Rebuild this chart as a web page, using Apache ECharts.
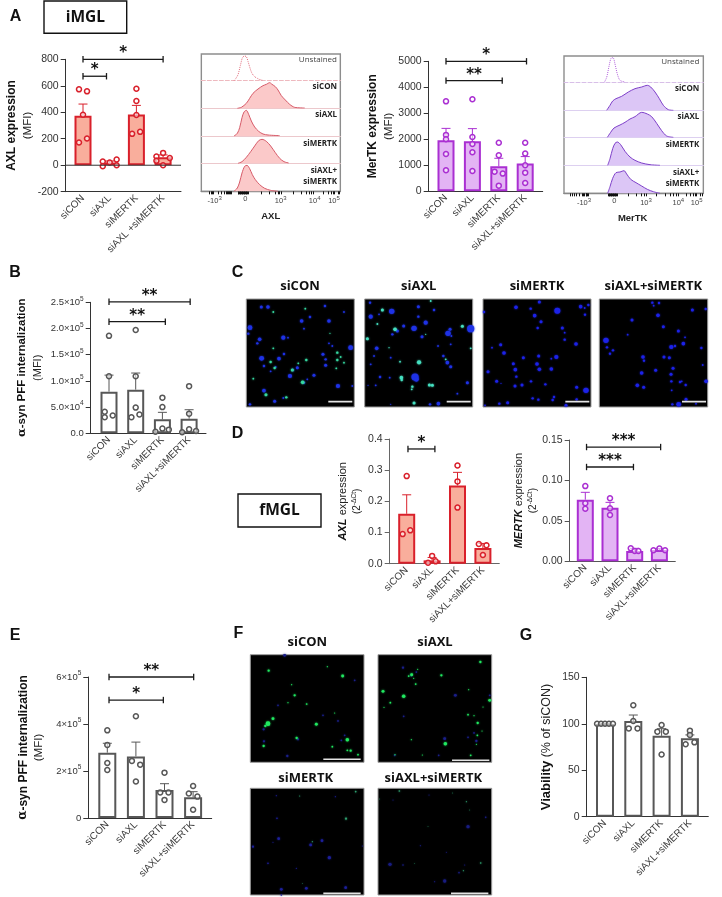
<!DOCTYPE html>
<html><head><meta charset="utf-8">
<script src="https://cdn.jsdelivr.net/npm/echarts@6/dist/echarts.min.js"></script>
<style>html,body{margin:0;padding:0;background:#fff}#c{width:722px;height:897px}</style>
</head><body><div id="c"></div>
<script>
const categories=['siCON','siAXL','siMERTK','siAXL+siMERTK'];
const categoriesSpaced=['siCON','siAXL','siMERTK','siAXL +siMERTK'];

// A – AXL
const axlMeans=[374,20,384,60];
const axlErrTop=[462,32,452,78];
const axlDots=[[573,558,381,202,172],[28,20,43,-8,0],[578,485,379,237,252],[66,93,55,33,0]];
const axlJitter=[[-.15,.15,0,.15,-.15],[-.26,0,.26,-.26,.26],[0,0,0,-.16,.14],[-.25,0,.25,-.25,0]];
const axlSig=[[0,3,800,'*'],[0,.88,672,'*']];
// A – MerTK
const mertkMeans=[1960,1925,960,1065];
const mertkErrTop=[2420,2410,1270,1335];
const mertkDots=[[3460,2170,2000,1436,808],[3540,2090,1820,1500,782],[1870,1385,756,680,218],[1870,1450,1000,718,320]];
const mertkJitter=[[0,0,0,0,0],[0,0,0,0,0],[0,0,-.16,.15,0],[0,0,0,0,0]];
const mertkSig=[[0,3.05,5000,'*'],[0,2.13,4256,'**']];
// B – iMGL internalization
const pffIMeans=[79500,83300,26700,28000];
const pffIErrTop=[111000,115000,40000,45000];
const pffIDots=[[186000,109000,41000,30500,34000],[197000,109000,49000,30500,36000],[68000,50000,3000,9000,7000],[90000,37500,2000,7500,4500]];
const pffIJitter=[[0,0,-.16,-.16,.14],[0,0,0,-.16,.14],[0,0,-.26,0,.24],[0,0,-.26,0,.26]];
const pffISig=[[0,3.04,251000,'**'],[0,2.11,213000,'**']];
// D – qPCR
const axlQMeans=[.16,.0107,.251,.05];
const axlQErrTop=[.221,.02,.293,.065];
const axlQDots=[[.281,.095,.107],[.025,.003,.0075],[.315,.264,.18],[.063,.059,.028]];
const axlQJitter=[[0,-.16,.14],[0,-.16,.14],[0,0,0],[-.16,.14,0]];
const axlQSig=[[.05,1.11,.368,'*']];
const mertkQMeans=[.0762,.0663,.0128,.014];
const mertkQErrTop=[.0853,.0729,.016,.0157];
const mertkQDots=[[.093,.0717,.065],[.078,.0655,.0573],[.016,.0128,.0128],[.0136,.0157,.0136]];
const mertkQJitter=[[0,0,0],[0,0,0],[-.16,0,.15],[-.24,0,.23]];
const mertkQSig=[[.05,3.05,.1413,'***'],[.05,1.95,.1166,'***']];
// E – fMGL internalization
const pffFMeans=[278000,262000,119000,88000];
const pffFErrTop=[318000,323000,146000,112000];
const pffFDots=[[373000,311000,234000,204000],[433000,243000,227000,155000],[193000,109000,109000,77000],[136000,104000,91000,35000]];
const pffFJitter=[[0,0,0,0],[0,-.14,.15,0],[0,-.15,.14,0],[0,-.15,.15,0]];
const pffFSig=[[.06,3.02,600000,'**'],[.06,1.96,502000,'*']];
// G – viability
const viaMeans=[99.7,103,87,84.3];
const viaErrTop=[100,109.4,94.7,88];
const viaDots=[[100,100,100,100,100],[120,103,95,95],[98.7,91.5,91.5,67],[92.6,88,78,80]];
const viaJitter=[[-.28,-.14,0,.14,.28],[0,0,-.16,.15],[0,-.15,.15,0],[0,0,-.15,.16]];

// flow histograms: [channel position, event height]
const axlUnst=[[108,0],[113,6],[120,18],[127,45],[133,68],[139,74],[145,72],[150,58],[156,38],[162,22],[170,12],[178,7],[186,3],[195,1]];
const axlCon=[[118,0],[130,3],[145,15],[155,30],[165,45],[180,58],[195,68],[205,72],[215,77],[222,72],[232,65],[240,55],[250,38],[262,25],[275,12],[290,3],[320,1]];
const axlAxl=[[108,0],[118,8],[125,25],[132,55],[138,72],[145,77],[152,65],[160,45],[170,27],[182,14],[195,6],[210,3],[245,1]];
const axlMer=[[120,0],[132,5],[145,18],[158,35],[170,52],[182,68],[192,72],[205,66],[218,52],[232,32],[245,15],[258,5],[272,1]];
const axlBoth=[[108,0],[118,10],[125,28],[132,55],[140,75],[147,78],[155,68],[163,50],[172,35],[185,20],[200,9],[218,3],[240,0]];
const merUnst=[[133,0],[140,15],[147,48],[153,72],[159,74],[165,55],[172,25],[180,6],[195,1]];
const merCon=[[140,0],[150,15],[158,28],[168,35],[185,42],[205,55],[225,65],[245,70],[262,75],[272,70],[285,55],[298,35],[310,15],[325,2],[340,0]];
const merAxl=[[142,0],[152,15],[162,28],[180,37],[195,45],[210,55],[225,62],[245,75],[262,70],[275,62],[290,42],[305,20],[320,4],[340,0]];
const merMer=[[143,0],[150,20],[158,50],[165,66],[172,70],[182,62],[195,42],[210,25],[225,15],[245,7],[270,2],[300,0]];
const merBoth=[[143,0],[150,20],[158,45],[168,62],[180,64],[192,68],[200,58],[212,42],[228,32],[245,22],[262,12],[280,5],[300,0]];
const axlFlowTicks=[35,40,44,47,60,70,78,84,88,92,95,98,100,120,122,124,126,128,130,132,134,136,138,140,142,144,146,148,150,190,215,232,240,245,250,285,310,325,335,340,345,375,390,400,405,410,420,425];
const merFlowTicks=[32,38,44,50,58,66,70,74,78,80,82,85,145,147,149,151,153,155,157,159,161,163,165,167,169,171,205,230,245,252,258,290,315,330,340,350,355,378,392,400,406,410,422,428];
const flowLabels=['-10{s|3}','0','10{s|3}','10{s|4}','10{s|5}'];

// micrographs: [x, y, spot size]
const c1Blue=[[52,33,5],[72,33,6],[18,95,8],[13,113,4],[173,75,6],[198,63,4],[255,75,6],[243,30,4],[300,48,3],[180,98,3],[47,130,6],[40,142,4],[118,125,7],[132,125,3],[320,155,8],[255,142,3],[265,150,3],[53,187,8],[105,188,6],[120,174,4],[237,175,5],[245,190,4],[245,208,5],[160,215,5],[147,222,4],[138,240,7],[210,238,5],[95,213,3],[60,210,4],[190,250,3],[80,226,3],[282,270,7],[325,270,3],[60,284,6],[6,300,6],[92,316,5],[118,306,3],[180,260,4],[18,325,4]];
const c1Green=[[88,48,3],[184,38,3],[80,198,4],[92,216,4],[145,222,5],[187,192,4],[163,202,3],[280,170,4],[280,192,4],[290,183,3],[277,217,3],[300,200,3],[176,259,6],[66,296,5],[127,304,4],[88,157,3],[258,112,2],[28,248,3]];
const c2Blue=[[443,46,9],[380,62,7],[378,20,4],[405,55,3],[523,32,5],[570,42,4],[523,62,4],[545,80,7],[510,97,9],[479,90,5],[460,105,5],[612,112,9],[618,100,5],[680,98,12],[445,115,4],[534,122,5],[398,157,6],[390,180,3],[622,120,3],[620,145,3],[598,180,4],[610,200,6],[620,212,5],[440,185,3],[380,205,3],[408,243,4],[437,245,3],[513,243,12],[517,250,8],[582,150,3],[670,260,5],[583,323,6],[640,293,3],[395,268,3],[372,268,2],[558,325,4],[440,325,2]];
const c2Green=[[415,42,5],[453,100,6],[370,128,5],[655,91,5],[525,199,7],[472,245,6],[473,252,4],[505,272,4],[503,280,3],[556,267,5],[565,268,5],[510,321,5],[680,157,3],[468,197,3],[400,84,3],[560,15,3],[545,115,2],[605,190,3],[435,155,2]];
const c3Blue=[[232,44,10],[178,18,5],[108,34,6],[152,38,4],[12,48,4],[302,32,6],[325,27,4],[315,56,4],[314,36,3],[164,59,6],[183,77,5],[173,96,4],[247,96,5],[254,110,3],[254,131,4],[288,144,6],[62,146,5],[72,171,6],[36,155,3],[176,180,5],[130,185,5],[229,183,7],[214,188,3],[100,203,5],[171,204,6],[106,221,6],[178,220,6],[214,219,6],[24,227,5],[109,242,4],[50,256,5],[153,256,4],[126,267,5],[105,270,5],[196,265,4],[63,262,2],[290,274,5],[318,283,9],[158,307,4],[175,311,4],[222,303,4],[218,312,4],[290,310,4],[83,320,5],[58,323,4],[15,328,3],[258,328,5]];
const c4Blue=[[517,20,4],[537,21,4],[521,29,3],[534,58,6],[637,42,5],[677,39,4],[456,72,5],[550,92,5],[595,105,5],[443,116,3],[378,133,9],[615,124,3],[381,154,4],[399,163,4],[390,173,4],[610,143,6],[574,153,7],[585,150,4],[664,156,4],[489,183,6],[552,183,5],[568,185,5],[492,194,4],[668,207,3],[485,231,6],[527,223,5],[579,217,5],[573,235,5],[678,256,6],[600,258,4],[605,256,3],[574,256,4],[617,267,4],[472,268,6],[491,274,5],[575,283,3],[618,310,5],[577,325,4],[596,325,8],[648,323,3]];
const f1Blue=[[110,10,5],[47,232,4],[48,268,4],[150,262,4],[90,160,3],[320,85,3],[270,207,3],[225,190,3],[118,312,4],[280,265,3],[290,250,3]];
const f1Green=[[62,56,4],[284,72,5],[140,130,4],[60,215,8],[75,200,5],[205,217,5],[298,263,6],[146,258,4],[47,282,4],[52,222,4],[176,156,3],[131,98,2],[238,44,2],[120,152,2],[308,296,4],[298,295,3],[253,284,3],[330,308,3],[260,183,2]];
const f2Blue=[[465,47,4],[622,130,5],[490,70,4],[467,193,3],[590,260,5],[678,243,3],[685,267,4],[572,310,3],[440,310,3],[725,130,3],[505,60,3],[660,256,3]];
const f2Green=[[491,68,5],[580,70,4],[503,96,3],[405,118,5],[467,133,6],[725,145,5],[427,152,3],[697,30,4],[509,52,2],[482,72,3],[497,79,2],[408,166,2],[660,188,3],[678,191,2],[689,213,4],[702,237,2],[688,250,3],[592,275,6],[441,308,2],[523,309,2],[668,310,3],[685,277,2],[490,263,2],[662,113,2],[705,165,2]];
const f3Blue=[[92,161,5],[15,185,4],[188,180,5],[222,167,5],[244,218,6],[87,100,3],[175,310,5],[100,313,5],[100,330,3],[293,308,5],[75,172,2],[60,235,3],[145,250,2],[85,32,2],[262,35,2],[343,183,2]];
const f3Green=[[294,101,4],[155,33,2],[323,20,3],[193,170,2],[163,296,1.5]];
const f4Blue=[[426,238,6],[465,240,3],[660,125,6],[590,288,6],[517,182,2],[595,202,2],[633,263,3],[560,290,2],[713,97,3],[435,45,2],[543,30,2],[650,240,2]];
const f4Green=[[454,18,3],[698,234,3],[646,257,2],[655,50,2],[540,125,1.5],[499,235,1.5],[665,75,1.5],[395,42,1.5],[614,24,1.5]];

const SANS='"Liberation Sans",Arial,sans-serif', HUM='"Open Sans","Noto Sans",sans-serif';
const RED={stroke:'#d9202b',fill:'#f9ae9c'}, PUR={stroke:'#aa2fd2',fill:'#e3b4f4'}, GRY={stroke:'#575757',fill:'#ffffff'};
const grid=[],xAxis=[],yAxis=[],series=[],graphic=[];
const supRich={s:{fontSize:6.5,verticalAlign:'top',lineHeight:14,fontFamily:SANS,color:'#333'},n:{fontSize:9.5,lineHeight:14,fontFamily:SANS,color:'#333'}};

function addPanel(p){
  const i=grid.length, left=p.left,right=p.right;
  grid.push({left,top:p.top,width:right-left,height:p.bottom-p.top,containLabel:false});
  xAxis.push({gridIndex:i,type:'value',min:-(p.c0-left)/p.sp,max:(right-p.c0)/p.sp,
    splitLine:{show:false},axisTick:{show:false},
    axisLine:{onZero:false,lineStyle:{color:p.axis||'#333',width:1}},
    axisLabel:{customValues:[0,1,2,3],rotate:45,fontSize:10,fontFamily:SANS,color:'#3a3a3a',margin:5,
      formatter:v=>(p.cats||categories)[Math.round(v)]}});
  yAxis.push({gridIndex:i,type:'value',min:p.min,max:p.max,interval:p.interval,splitLine:{show:false},
    name:p.name,nameLocation:'middle',nameGap:p.gap,nameRotate:90,
    nameTextStyle:{rich:p.nameRich},
    axisLine:{show:true,onZero:false,lineStyle:{color:p.axis||'#333',width:1}},
    axisTick:{show:true,length:5,lineStyle:{color:p.axis||'#333'}},
    axisLabel:{fontSize:10.5,fontFamily:SANS,color:'#333',margin:7,formatter:p.fmt||(v=>String(v)),rich:supRich}});
  const ax={xAxisIndex:i,yAxisIndex:i,silent:true};
  if(p.min<0) series.push({...ax,type:'line',symbol:'none',data:[[-(p.c0-left)/p.sp,0],[(right-p.c0)/p.sp,0]],lineStyle:{color:p.axis||'#333',width:1}});
  series.push({...ax,type:'bar',barWidth:p.barW||17,data:p.means.map((v,k)=>[k,v]),
    itemStyle:{color:p.col.fill,borderColor:p.col.stroke,borderWidth:2}});
  series.push({...ax,type:'custom',data:p.errTop.map((v,k)=>[k,v,p.means[k]]),
    renderItem:(ps,api)=>{const a=api.coord([api.value(0),api.value(2)]),b=api.coord([api.value(0),api.value(1)]);
      const st={stroke:p.col.stroke,lineWidth:1,fill:null};
      return {type:'group',children:[
        {type:'line',shape:{x1:a[0],y1:a[1],x2:b[0],y2:b[1]},style:st},
        {type:'line',shape:{x1:b[0]-4.5,y1:b[1],x2:b[0]+4.5,y2:b[1]},style:st}]};}});
  const pts=[];p.dots.forEach((arr,k)=>arr.forEach((v,j)=>pts.push([k+p.jit[k][j],v])));
  series.push({...ax,type:'scatter',symbol:'circle',symbolSize:p.dotSize||5,data:pts,
    itemStyle:{color:'rgba(255,255,255,0.55)',borderColor:p.col.stroke,borderWidth:1.5,opacity:1}});
  if(p.sig) series.push({...ax,type:'custom',data:p.sig.map(s=>[s[0],s[1],s[2]]),
    renderItem:(ps,api)=>{
      const a=api.coord([api.value(0),api.value(2)]),b=api.coord([api.value(1),api.value(2)]);
      const st={stroke:'#1a1a1a',lineWidth:1.3,fill:null};
      return {type:'group',children:[
        {type:'line',shape:{x1:a[0],y1:a[1],x2:b[0],y2:b[1]},style:st},
        {type:'line',shape:{x1:a[0],y1:a[1]-3.2,x2:a[0],y2:a[1]+3.2},style:st},
        {type:'line',shape:{x1:b[0],y1:b[1]-3.2,x2:b[0],y2:b[1]+3.2},style:st},
        {type:'text',style:{text:p.sig[ps.dataIndex][3],x:(a[0]+b[0])/2,y:a[1]-6,align:'center',verticalAlign:'middle',
          fontFamily:'"DejaVu Sans"',fontWeight:'bold',fontSize:15,fill:'#111'}}]};}});
}

function nameRich(sz){sz=sz||12;return {b:{fontSize:sz,fontWeight:'bold',fontFamily:SANS,color:'#111',lineHeight:16},
  a:{fontSize:sz,fontWeight:'bold',fontFamily:'"DejaVu Serif","Liberation Serif",serif',color:'#111',lineHeight:16},
  r:{fontSize:sz-.5,fontFamily:SANS,color:'#222',lineHeight:16},
  i:{fontSize:11,fontWeight:'bold',fontStyle:'italic',fontFamily:SANS,color:'#111',lineHeight:15},
  t:{fontSize:11,fontFamily:SANS,color:'#222',lineHeight:15},
  s:{fontSize:6.5,fontFamily:SANS,color:'#222',verticalAlign:'top',lineHeight:13},
  v:{fontSize:10,fontFamily:SANS,color:'#222',lineHeight:13}};}
const sup=(v,e)=>`{n|${v}×10}{s|${e}}`;
const fmtPffI=v=>v===0?'{n|0.0}':sup((v/10**Math.floor(Math.log10(v))).toFixed(1),Math.floor(Math.log10(v)));
const fmtPffF=v=>v===0?'{n|0}':`{n|${v/1e5}×10}{s|5}`;

addPanel({left:65.7,right:181,top:59.3,bottom:191.7,c0:83,sp:26.7,min:-200,max:800,interval:200,means:axlMeans,errTop:axlErrTop,dots:axlDots,jit:axlJitter,sig:axlSig,col:RED,cats:categoriesSpaced,
  name:'{b|AXL expression}\n{r|(MFI)}',nameRich:nameRich(),gap:30});
addPanel({left:428.7,right:542.7,top:61.3,bottom:191.3,c0:446,sp:26.4,min:0,max:5000,interval:1000,means:mertkMeans,errTop:mertkErrTop,dots:mertkDots,jit:mertkJitter,sig:mertkSig,col:PUR,
  name:'{b|MerTK expression}\n{r|(MFI)}',nameRich:nameRich(),gap:30});
addPanel({left:90.7,right:206,top:302.3,bottom:433.3,c0:109,sp:26.7,min:0,max:250000,interval:50000,means:pffIMeans,errTop:pffIErrTop,dots:pffIDots,jit:pffIJitter,sig:pffISig,col:GRY,fmt:fmtPffI,
  name:'{a|α}{b|-syn PFF internalization}\n{r|(MFI)}',nameRich:nameRich(11.5),gap:45});
addPanel({left:389.7,right:499.3,top:439,bottom:563.7,c0:406.7,sp:25.4,min:0,max:.4,interval:.1,means:axlQMeans,errTop:axlQErrTop,dots:axlQDots,jit:axlQJitter,sig:axlQSig,col:RED,axis:'#666',fmt:v=>v.toFixed(1),
  name:'{i|AXL} {t|expression}\n{v|(2}{s|-ΔCt}{v|)}',nameRich:nameRich(),gap:26});
addPanel({left:569.7,right:675.3,top:440,bottom:561.3,c0:585.3,sp:24.7,min:0,max:.15,interval:.05,means:mertkQMeans,errTop:mertkQErrTop,dots:mertkQDots,jit:mertkQJitter,sig:mertkQSig,col:PUR,axis:'#555',fmt:v=>v.toFixed(2),
  name:'{i|MERTK} {t|expression}\n{v|(2}{s|-ΔCt}{v|)}',nameRich:nameRich(),gap:28});
addPanel({left:88.3,right:211.7,top:677,bottom:818,c0:107.3,sp:28.6,barW:18,min:0,max:600000,interval:200000,means:pffFMeans,errTop:pffFErrTop,dots:pffFDots,jit:pffFJitter,sig:pffFSig,col:GRY,fmt:fmtPffF,
  name:'{a|α}{b|-syn PFF internalization}\n{r|(MFI)}',nameRich:nameRich(12),gap:41});
addPanel({left:586.7,right:708.3,top:677.3,bottom:816.7,c0:605,sp:28.3,barW:18,min:0,max:150,interval:50,means:viaMeans,errTop:viaErrTop,dots:viaDots,jit:viaJitter,col:GRY,
  name:'{b|Viability} {r|(% of siCON)}',nameRich:nameRich(13),gap:32});

function addHist(h){
  const rows=[h.unst,h.con,h.axl,h.mer,h.both];
  rows.forEach((d,r)=>{
    const i=grid.length, base=h.oy+h.bases[r]/3, last=r===4;
    grid.push({left:h.ox+h.xMin/3,width:(h.xMax-h.xMin)/3,top:base-83/3,height:83/3,containLabel:false});
    xAxis.push({gridIndex:i,type:'value',min:h.xMin,max:h.xMax,splitLine:{show:false},
      axisLine:{show:true,onZero:false,lineStyle:last?{color:'#888',width:1.4}:{color:r===0?h.base0:h.baseC,width:1,type:r===0?'dashed':'solid'}},
      axisTick:last?{show:true,customValues:h.ticks,length:3,lineStyle:{color:'#111',width:1}}:{show:false},
      axisLabel:last?{show:true,customValues:h.labelAt,fontSize:7.5,fontFamily:SANS,color:'#444',margin:4,
        formatter:v=>flowLabels[h.labelAt.indexOf(v)],
        rich:{s:{fontSize:6,verticalAlign:'top',lineHeight:11,fontFamily:SANS,color:'#444'}}}:{show:false}});
    yAxis.push({gridIndex:i,type:'value',min:0,max:83,show:false,splitLine:{show:false}});
    series.push({xAxisIndex:i,yAxisIndex:i,type:'line',symbol:'none',smooth:.3,data:d,silent:true,
      lineStyle:{color:r===0?h.dotted:h.line,width:1,type:r===0?'dotted':'solid'},
      areaStyle:r===0?undefined:{color:h.fill,opacity:1}});
  });
  graphic.push({type:'rect',silent:true,shape:{x:h.ox+h.xMin/3,y:h.oy+h.bases[4]/3-83*5/3+1,width:(h.xMax-h.xMin)/3,height:83*5/3-1},
    style:{fill:'none',stroke:'#8d8d8d',lineWidth:1.4}});
  h.labels.forEach((l,k)=>graphic.push({type:'text',silent:true,style:{text:l[0],x:h.labelX,y:l[1],align:'right',verticalAlign:'middle',
    fontFamily:HUM,fontSize:8,fontWeight:k?'bold':'normal',fill:k?'#222':'#444'}}));
  graphic.push({type:'text',silent:true,style:{text:h.title,x:h.titleX,y:h.titleY,align:'center',verticalAlign:'middle',fontFamily:SANS,fontSize:9.5,fontWeight:'bold',fill:'#222'}});
}
addHist({ox:198,oy:48,xMin:10,xMax:427,bases:[98,181,264,346,430],unst:axlUnst,con:axlCon,axl:axlAxl,mer:axlMer,both:axlBoth,
  ticks:axlFlowTicks,labelAt:[50,142,248,350,408],line:'#d65a68',dotted:'#e2707f',fill:'#fbc9c9',base0:'#eeb9bf',baseC:'#ecc8cc',
  labels:[['Unstained',60],['siCON',87],['siAXL',115],['siMERTK',143.3],['siAXL+',171],['siMERTK',182]],labelX:337,title:'AXL',titleX:270.7,titleY:216});
addHist({ox:560,oy:48,xMin:12,xMax:430,bases:[103,187,268,352,436],unst:merUnst,con:merCon,axl:merAxl,mer:merMer,both:merBoth,
  ticks:merFlowTicks,labelAt:[72,163,258,355,410],line:'#7d3fc8',dotted:'#b263dc',fill:'#dcc6f6',base0:'#d8bfe8',baseC:'#ddd0f0',
  labels:[['Unstained',61.7],['siCON',89],['siAXL',116.7],['siMERTK',145],['siAXL+',172.7],['siMERTK',183.7]],labelX:699.3,title:'MerTK',titleX:632.7,titleY:218});

function addImage(m){
  const i=grid.length;
  grid.push({left:m.l,top:m.t,width:m.r-m.l,height:m.b-m.t,show:true,backgroundColor:'#000',borderColor:'#9a9a9a',borderWidth:1,containLabel:false});
  xAxis.push({gridIndex:i,type:'value',min:m.x0,max:m.x1,show:false,splitLine:{show:false}});
  yAxis.push({gridIndex:i,type:'value',min:m.y0,max:m.y1,inverse:true,show:false,splitLine:{show:false}});
  const ax={xAxisIndex:i,yAxisIndex:i,silent:true,type:'scatter',symbol:'circle',symbolSize:d=>d[2]*m.k};
  series.push({...ax,data:m.blue,itemStyle:{color:m.bc,opacity:1,shadowBlur:m.sb,shadowColor:m.bc}});
  if(m.green) series.push({...ax,data:m.green,itemStyle:{color:m.gc,opacity:1,shadowBlur:m.sb,shadowColor:m.gs||m.gc}});
  series.push({xAxisIndex:i,yAxisIndex:i,silent:true,type:'line',symbol:'none',data:m.bar,lineStyle:{color:'#e4e4e4',width:1.6}});
}
const cB='#1e32e6', cG='#35d8a0';
addImage({l:246.3,r:354.3,t:299,b:407,x0:7,x1:331,y0:9,y1:333,blue:c1Blue,green:c1Green,bc:cB,gc:cG,k:.6,sb:2,bar:[[253,317],[325,317]]});
addImage({l:364.7,r:472.7,t:299,b:407,x0:362,x1:686,y0:9,y1:333,blue:c2Blue,green:c2Green,bc:cB,gc:'#45e0c0',k:.6,sb:2,bar:[[608,317],[680,317]]});
addImage({l:483,r:591,t:299,b:407,x0:9,x1:333,y0:9,y1:333,blue:c3Blue,bc:'#1c22e8',k:.6,sb:2,bar:[[256,317],[328,317]]});
addImage({l:599.3,r:707.7,t:299,b:407,x0:358,x1:683,y0:9,y1:333,blue:c4Blue,bc:'#1c22e8',k:.6,sb:2,bar:[[606,317],[678,317]]});
const dB='#1a1f8a', fG='#20e860';
addImage({l:250.3,r:364,t:654.7,b:762.3,x0:7,x1:348,y0:8,y1:331,blue:f1Blue,green:f1Green,bc:dB,gc:fG,k:.58,sb:2,bar:[[226,322],[338,322]]});
addImage({l:378,r:491.7,t:654.7,b:762.3,x0:390,x1:731,y0:8,y1:331,blue:f2Blue,green:f2Green,bc:dB,gc:fG,k:.58,sb:2,bar:[[612,325],[724,325]]});
addImage({l:250.3,r:364,t:788.3,b:895,x0:7,x1:348,y0:10,y1:330,blue:f3Blue,green:f3Green,bc:'#1c1f9a',gc:'#2fa070',k:.55,sb:2,bar:[[226,325],[338,325]]});
addImage({l:378,r:491.7,t:788.3,b:895,x0:390,x1:731,y0:10,y1:330,blue:f4Blue,green:f4Green,bc:'#181c80',gc:'#2fa070',k:.55,sb:2,bar:[[609,325],[721,325]]});

const T=(text,x,y,o)=>graphic.push({type:'text',silent:true,style:Object.assign({text,x,y,align:'center',verticalAlign:'middle',fill:'#111'},o)});
const letter={fontFamily:SANS,fontWeight:'bold',fontSize:16};
[['A',15.5,17],['B',15,273],['C',237.5,273],['D',237.5,434],['E',15,636],['F',238.5,634],['G',526,636]].forEach(l=>T(l[0],l[1],l[2],letter));
const head={fontFamily:HUM,fontWeight:'bold',fontSize:13};
[['siCON',300,286],['siAXL',418.7,286],['siMERTK',537,286],['siAXL+siMERTK',653.3,286],['siCON',307.3,642.3],['siAXL',435,642.3],['siMERTK',305.7,778.3],['siAXL+siMERTK',433.3,778.3]].forEach(l=>T(l[0],l[1],l[2],head));
[['iMGL',44,1,82.7,32.3],['fMGL',238,494,83,33]].forEach(b=>{
  graphic.push({type:'rect',silent:true,shape:{x:b[1],y:b[2],width:b[3],height:b[4]},style:{fill:'#fff',stroke:'#111',lineWidth:1.4}});
  T(b[0],b[1]+b[3]/2,b[2]+b[4]/2,{fontFamily:HUM,fontWeight:'bold',fontSize:15.5});
});

const chart=echarts.init(document.getElementById('c'),null,{renderer:'canvas'});
chart.setOption({animation:false,backgroundColor:'#fff',tooltip:{show:false},grid,xAxis,yAxis,series,graphic});
</script></body></html>
